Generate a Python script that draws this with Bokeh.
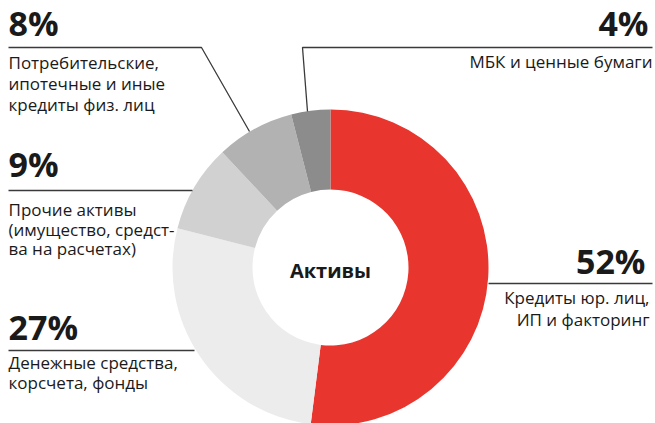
import math
from bokeh.plotting import figure
from bokeh.models import Range1d
from bokeh.core.properties import value
from bokeh.embed import file_html
from bokeh.resources import INLINE

# ---- data ----
shares = [52, 27, 9, 8, 4]
pct_labels = ["52%", "27%", "9%", "8%", "4%"]
descriptions = [
    ["Кредиты юр. лиц,", "ИП и факторинг"],
    ["Денежные средства,", "корсчета, фонды"],
    ["Прочие активы", "(имущество, средст-", "ва на расчетах)"],
    ["Потребительские,", "ипотечные и иные", "кредиты физ. лиц"],
    ["МБК и ценные бумаги"],
]
colors = ["#e8352d", "#ececec", "#d1d1d1", "#b2b2b2", "#8c8c8c"]
center_title = "Активы"

W, H = 655, 423
def X(px): return px
def Y(py): return H - py

p = figure(width=W, height=H, output_backend="svg", toolbar_location=None,
           x_range=Range1d(0, W), y_range=Range1d(0, H), min_border=0)
p.axis.visible = False
p.grid.visible = False
p.outline_line_color = None
p.background_fill_color = "white"
p.border_fill_color = "white"

cx, cy, R, r = X(330), Y(267), 158, 78
total = sum(shares)
start = math.pi / 2
starts, ends = [], []
for s in shares:
    end = start - s / total * 2 * math.pi
    starts.append(start); ends.append(end)
    start = end

p.annular_wedge(x=[cx] * len(shares), y=[cy] * len(shares), inner_radius=r, outer_radius=R,
                start_angle=starts, end_angle=ends, direction="clock",
                fill_color=colors, line_color=None)

p.text(x=[cx], y=[Y(270)], text=[center_title], text_font=value("Open Sans"),
       text_font_style="bold", text_font_size="20px", text_color="#1a1a1a",
       text_align="center", text_baseline="middle")

# layout of labels (reference pixel positions of cap-height centres)
label_layout = [
    dict(x=645, align="right", pct_mid=260, desc_mid=297, step=22),     # 52%
    dict(x=8, align="left", pct_mid=326, desc_mid=362, step=20),        # 27%
    dict(x=8, align="left", pct_mid=163, desc_mid=209, step=19.5),      # 9%
    dict(x=8, align="left", pct_mid=22, desc_mid=62, step=21),          # 8%
    dict(x=648, align="right", pct_mid=22, desc_mid=61, step=21),       # 4%
]
for lab, desc, lay in zip(pct_labels, descriptions, label_layout):
    p.text(x=[X(lay["x"])], y=[Y(lay["pct_mid"])], text=[lab], text_font=value("Open Sans"),
           text_font_style="bold", text_font_size="34px", text_color="#1a1a1a",
           text_align=lay["align"], text_baseline="middle")
    xs = [X(lay["x"] + (4 if lay["align"] == "right" else 0))] * len(desc)
    ys = [Y(lay["desc_mid"] + i * lay["step"]) for i in range(len(desc))]
    p.text(x=xs, y=ys, text=desc, text_font=value("Open Sans"),
           text_font_size="17px", text_color="#1a1a1a",
           text_align=lay["align"], text_baseline="middle")

leader_lines = [
    [(488, 283), (652, 283)],
    [(8, 350), (194, 350)],
    [(8, 190), (192, 190)],
    [(8, 47), (201, 47), (249, 131)],
    [(652, 47), (302, 47), (307, 111)],
]
p.multi_line(xs=[[X(a) for a, b in ln] for ln in leader_lines],
             ys=[[Y(b) for a, b in ln] for ln in leader_lines],
             line_color="#3a3a3a", line_width=1.3)

open("out.html", "w").write(file_html(p, INLINE))
